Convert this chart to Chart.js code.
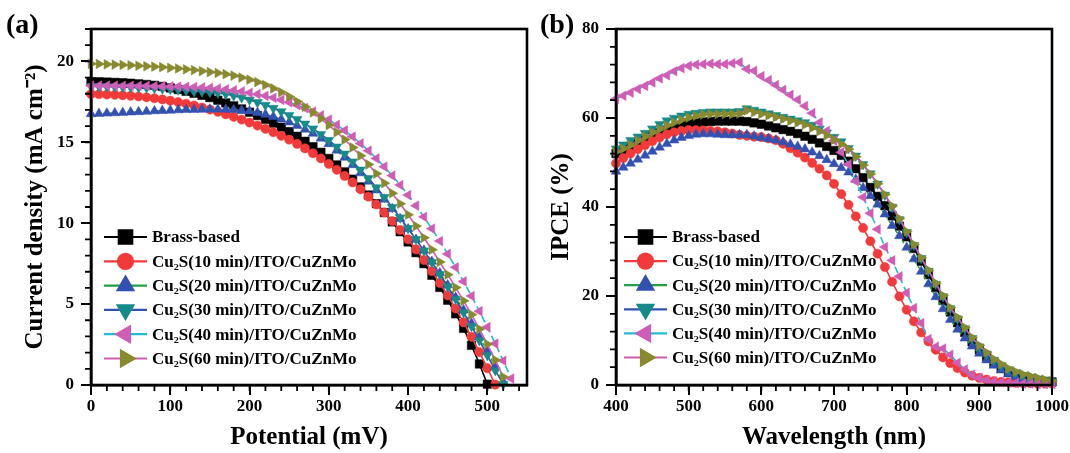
<!DOCTYPE html>
<html>
<head>
<meta charset="utf-8">
<script src="https://cdn.jsdelivr.net/npm/chart.js@4.4.1/dist/chart.umd.min.js"></script>
<style>
    html, body { margin: 0; padding: 0; background: #fff; }
    #wrap { position: relative; width: 1070px; height: 453px; overflow: hidden; }
    .panel { position: absolute; top: 0; width: 535px; height: 453px; }
    .tag { position: absolute; top: 8px; font: bold 28px "Liberation Serif", "Times New Roman", serif; line-height: 32px; color: #000; }
</style>
</head>
<body>
<div id="wrap">
    <div class="panel" style="left:0"><canvas id="jvChart"></canvas></div>
    <div class="panel" style="left:535px"><canvas id="ipceChart"></canvas></div>
    <div class="tag" style="left:6px">(a)</div>
    <div class="tag" style="left:540px">(b)</div>
</div>
<script>
// ---- data ----
const seriesNames = ['Brass-based', 'Cu\u2082S(10 min)/ITO/CuZnMo', 'Cu\u2082S(20 min)/ITO/CuZnMo',
    'Cu\u2082S(30 min)/ITO/CuZnMo', 'Cu\u2082S(40 min)/ITO/CuZnMo', 'Cu\u2082S(60 min)/ITO/CuZnMo'];

// (a) J-V curves, potential in mV
const potential = [0, 10, 20, 30, 40, 50, 60, 70, 80, 90, 100, 110, 120, 130, 140, 150, 160, 170, 180, 190,
    200, 210, 220, 230, 240, 250, 260, 270, 280, 290, 300, 310, 320, 330, 340, 350, 360, 370, 380, 390,
    400, 410, 420, 430, 440, 450, 460, 470, 480, 490, 500, 510, 520, 530];
const jBrass = [18.75, 18.74, 18.72, 18.7, 18.68, 18.65, 18.61, 18.57, 18.52, 18.45, 18.36, 18.26, 18.15, 18.03, 17.9,
    17.76, 17.6, 17.43, 17.25, 17.06, 16.86, 16.65, 16.42, 16.18, 15.93, 15.66, 15.37, 15.06, 14.73, 14.38,
    14.0, 13.6, 13.17, 12.72, 12.24, 11.74, 11.21, 10.66, 10.08, 9.47, 8.84, 8.18, 7.5, 6.78, 6.03,
    5.24, 4.4, 3.5, 2.45, 1.3, 0.05];
const jCu10 = [17.98, 17.97, 17.95, 17.93, 17.9, 17.87, 17.83, 17.78, 17.72, 17.65, 17.57, 17.48, 17.38, 17.27, 17.15,
    17.02, 16.88, 16.73, 16.57, 16.4, 16.22, 16.03, 15.83, 15.62, 15.4, 15.16, 14.9, 14.62, 14.32, 14.0,
    13.66, 13.3, 12.92, 12.52, 12.09, 11.64, 11.16, 10.66, 10.13, 9.58, 9.0, 8.38, 7.72, 7.03, 6.3,
    5.53, 4.72, 3.87, 2.98, 2.03, 1.04, 0.02];
const jCu20 = [16.75, 16.77, 16.79, 16.81, 16.83, 16.86, 16.88, 16.9, 16.93, 16.95, 16.97, 16.99, 17.01, 17.02, 17.03,
    17.04, 17.04, 17.03, 17.01, 16.97, 16.92, 16.83, 16.72, 16.58, 16.42, 16.24, 16.03, 15.8, 15.54, 15.24,
    14.9, 14.5, 14.06, 13.6, 13.1, 12.58, 12.04, 11.47, 10.88, 10.27, 9.64, 8.99, 8.32, 7.63, 6.92,
    6.18, 5.42, 4.63, 3.81, 2.96, 2.07, 1.15, 0.2];
const jCu30 = [18.45, 18.45, 18.44, 18.43, 18.42, 18.41, 18.39, 18.37, 18.35, 18.32, 18.29, 18.25, 18.2, 18.15, 18.13,
    18.1, 18.05, 17.98, 17.88, 17.76, 17.62, 17.47, 17.3, 17.11, 16.9, 16.67, 16.42, 16.14, 15.84, 15.5,
    15.13, 14.72, 14.28, 13.8, 13.3, 12.77, 12.2, 11.6, 10.98, 10.34, 9.68, 9.0, 8.3, 7.58, 6.84,
    6.08, 5.3, 4.48, 3.63, 2.75, 1.83, 0.9, 0.05];
const jCu40 = [18.5, 18.5, 18.5, 18.5, 18.49, 18.49, 18.48, 18.48, 18.47, 18.46, 18.45, 18.44, 18.43, 18.41, 18.39,
    18.36, 18.32, 18.27, 18.21, 18.14, 18.06, 17.97, 17.87, 17.75, 17.62, 17.47, 17.3, 17.11, 16.9, 16.67,
    16.4, 16.08, 15.73, 15.35, 14.93, 14.48, 14.0, 13.49, 12.94, 12.36, 11.74, 11.08, 10.39, 9.66, 8.9,
    8.1, 7.27, 6.4, 5.5, 4.56, 3.58, 2.56, 1.5, 0.4];
const jCu60 = [19.85, 19.84, 19.82, 19.8, 19.78, 19.76, 19.73, 19.7, 19.67, 19.64, 19.6, 19.56, 19.51, 19.46, 19.4,
    19.34, 19.28, 19.21, 19.12, 19.0, 18.87, 18.72, 18.54, 18.33, 18.09, 17.82, 17.52, 17.19, 16.84, 16.46,
    16.06, 15.62, 15.17, 14.68, 14.17, 13.63, 13.06, 12.47, 11.85, 11.2, 10.52, 9.82, 9.1, 8.36, 7.6,
    6.82, 6.02, 5.2, 4.35, 3.46, 2.52, 1.54, 0.5];

// (b) IPCE spectra, wavelength in nm
const wavelength = [400, 410, 420, 430, 440, 450, 460, 470, 480, 490, 500, 510, 520, 530, 540, 550, 560, 570, 580, 590,
    600, 610, 620, 630, 640, 650, 660, 670, 680, 690, 700, 710, 720, 730, 740, 750, 760, 770, 780, 790,
    800, 810, 820, 830, 840, 850, 860, 870, 880, 890, 900, 910, 920, 930, 940, 950, 960, 970, 980, 990, 1000];
const ipceBrass = [52.0, 52.8, 53.6, 54.4, 55.2, 56.0, 56.7, 57.3, 57.8, 58.3, 58.6, 58.9, 59.1, 59.2, 59.3, 59.3,
    59.3, 59.3, 59.2, 58.9, 58.6, 58.2, 57.8, 57.4, 57.0, 56.5, 55.9, 55.2, 54.4, 53.6, 52.7, 51.6, 50.3,
    48.6, 46.6, 44.4, 42.4, 40.3, 38.0, 35.7, 33.3, 30.7, 27.8, 24.8, 21.9, 19.0, 16.4, 14.0, 11.8, 9.7,
    7.9, 6.3, 4.9, 3.7, 2.8, 2.1, 1.6, 1.2, 1.0, 0.8, 0.7];
const ipceCu10 = [49.8, 51.0, 52.0, 53.0, 53.9, 54.8, 55.6, 56.3, 56.8, 57.1, 57.3, 57.3, 57.2, 57.1, 57.0, 56.8,
    56.5, 56.2, 56.0, 55.8, 55.7, 55.4, 55.0, 54.2, 53.2, 52.2, 51.1, 49.9, 48.6, 47.1, 45.2, 42.9, 40.5,
    37.9, 35.3, 32.3, 29.5, 26.5, 23.2, 19.9, 16.9, 14.3, 11.8, 9.8, 7.9, 6.2, 4.9, 3.8, 2.8, 2.1,
    1.6, 1.2, 0.9, 0.7, 0.6, 0.5, 0.4, 0.4, 0.3, 0.3, 0.3];
const ipceCu20 = [48.0, 48.9, 49.8, 50.7, 51.6, 52.5, 53.4, 54.2, 55.0, 55.6, 56.0, 56.3, 56.4, 56.4, 56.3, 56.2,
    56.2, 56.2, 56.2, 55.9, 55.6, 55.3, 55.0, 54.6, 54.1, 53.6, 53.0, 52.3, 51.5, 50.6, 49.7, 48.8, 47.8,
    46.2, 44.3, 42.5, 40.6, 38.4, 35.8, 33.5, 30.9, 28.3, 25.5, 22.7, 19.8, 17.1, 14.7, 12.5, 10.5, 8.7,
    7.1, 5.6, 4.4, 3.4, 2.5, 1.8, 1.3, 1.0, 0.8, 0.6, 0.5];
const ipceCu30 = [53.1, 54.0, 55.0, 55.8, 56.6, 57.6, 58.6, 59.4, 60.0, 60.5, 60.9, 61.1, 61.3, 61.4, 61.4, 61.4,
    61.4, 61.5, 62.1, 61.8, 61.4, 61.0, 60.6, 60.2, 59.8, 59.4, 59.0, 58.4, 57.6, 56.7, 55.7, 54.7, 53.2,
    51.5, 49.6, 47.5, 45.2, 42.7, 40.0, 37.2, 34.3, 31.4, 28.5, 25.6, 22.7, 19.9, 17.2, 14.9, 12.7, 10.5,
    8.6, 7.0, 5.6, 4.4, 3.5, 2.8, 2.2, 1.8, 1.4, 1.1, 0.8];
const ipceCu40 = [64.3, 65.0, 65.7, 66.5, 67.2, 68.0, 68.9, 69.6, 70.5, 71.2, 71.7, 72.0, 72.1, 72.2, 72.1, 72.1,
    72.3, 72.5, 71.0, 70.6, 69.4, 68.5, 67.4, 66.3, 65.2, 64.1, 62.7, 61.1, 59.0, 57.1, 54.9, 52.3, 49.6,
    45.8, 42.2, 38.6, 35.0, 31.0, 28.0, 24.4, 20.7, 17.3, 13.9, 10.3, 8.6, 8.2, 6.8, 5.0, 3.5, 2.3,
    1.6, 1.1, 0.8, 0.6, 0.5, 0.4, 0.3, 0.3, 0.2, 0.2, 0.2];
const ipceCu60 = [52.4, 53.1, 53.9, 54.9, 55.8, 56.7, 57.5, 58.3, 59.0, 59.6, 60.1, 60.5, 60.8, 60.9, 60.9, 60.9,
    60.9, 61.0, 61.7, 61.3, 60.9, 60.6, 60.2, 59.8, 59.4, 59.0, 58.5, 57.8, 57.0, 56.1, 55.1, 54.1, 53.0,
    51.3, 49.4, 47.4, 45.2, 42.8, 40.2, 37.4, 34.5, 31.6, 28.6, 25.8, 22.9, 20.1, 17.4, 15.2, 12.9, 10.7,
    8.9, 7.3, 5.8, 4.7, 3.7, 3.0, 2.4, 2.0, 1.6, 1.2, 0.9];

// ---- styling per series ----
const markerColors = ['#000000', '#f23a3a', '#3451b2', '#178a8a', '#cf5db6', '#878a2d'];
const lineColors = ['#000000', '#f23a3a', '#23a042', '#3451b2', '#22bcd2', '#cf5db6'];
const lineDashes = [[], [], [3, 3], [], [7, 4], []];
const markerStyles = ['rect', 'circle', 'triangle', 'triangle', 'triangle', 'triangle'];
const markerRotations = [0, 0, 0, 180, 270, 90];
const plotRadius = [6, 4.6, 5.6, 5.6, 5.6, 5.6];
const legendRadius = [9.5, 7.5, 9, 9, 9, 9];

const serif = '"Liberation Serif", "Times New Roman", serif';

// legend drawn inside the plot, line sample + big marker like the original
const insideLegend = {
    id: 'insideLegend',
    afterDatasetsDraw(chart, args, opts) {
        const ctx = chart.ctx;
        ctx.save();
        ctx.font = 'bold 17px ' + serif;
        ctx.textBaseline = 'middle';
        chart.data.datasets.forEach((ds, i) => {
            const y = opts.top + i * opts.gap;
            ctx.setLineDash([]);
            ctx.strokeStyle = lineColors[i];
            ctx.lineWidth = 2.2;
            ctx.beginPath();
            ctx.moveTo(opts.left, y);
            ctx.lineTo(opts.left + opts.len, y);
            ctx.stroke();
            ctx.fillStyle = markerColors[i];
            ctx.strokeStyle = markerColors[i];
            Chart.helpers.drawPoint(ctx, {
                pointStyle: markerStyles[i], rotation: markerRotations[i],
                radius: legendRadius[i], borderWidth: 1
            }, opts.left + opts.len / 2, y);
            ctx.fillStyle = '#000';
            ctx.fillText(ds.label, opts.left + opts.len + 5, y + 1);
        });
        ctx.restore();
    }
};

// box frame and the short minor ticks
const frameTicks = {
    id: 'frameTicks',
    afterDraw(chart, args, opts) {
        const { ctx, chartArea: a } = chart;
        const xs = chart.scales.x, ys = chart.scales.y;
        ctx.save();
        ctx.strokeStyle = '#000';
        ctx.lineWidth = 1.8;
        ctx.beginPath();
        for (let v = xs.min; v <= xs.max + 1e-9; v += opts.xStep) {
            const px = xs.getPixelForValue(v);
            ctx.moveTo(px, a.bottom);
            ctx.lineTo(px, a.bottom + opts.len);
        }
        for (let v = ys.min; v <= ys.max + 1e-9; v += opts.yStep) {
            const py = ys.getPixelForValue(v);
            ctx.moveTo(a.left, py);
            ctx.lineTo(a.left - opts.len, py);
        }
        ctx.stroke();
        ctx.lineWidth = 2.6;
        ctx.strokeRect(a.left, a.top, a.right - a.left, a.bottom - a.top);
        ctx.restore();
    }
};

function makeChart(id, cfg) {
    const datasets = cfg.series.map((vals, i) => ({
        label: seriesNames[i],
        data: vals,
        borderColor: lineColors[i],
        borderWidth: 1.6,
        borderDash: lineDashes[i],
        pointStyle: markerStyles[i],
        pointRotation: markerRotations[i],
        pointRadius: plotRadius[i],
        pointBackgroundColor: markerColors[i],
        pointBorderColor: markerColors[i],
        pointBorderWidth: 0.5,
        tension: 0,
        fill: false,
        clip: false,
        order: 5 - i
    }));
    const tickFont = { family: serif, weight: 'bold', size: 17 };
    const titleFont = { family: serif, weight: 'bold', size: 25 };
    return new Chart(document.getElementById(id), {
        type: 'line',
        data: { labels: cfg.xValues, datasets: datasets },
        options: {
            responsive: true,
            maintainAspectRatio: false,
            animation: false,
            layout: { padding: cfg.padding },
            plugins: {
                legend: { display: false },
                tooltip: { enabled: false },
                insideLegend: cfg.legend,
                frameTicks: cfg.minor
            },
            scales: {
                x: {
                    type: 'linear',
                    min: cfg.xMin, max: cfg.xMax,
                    afterFit: (s) => { s.height = cfg.xAxisHeight; s.paddingLeft = 0; s.paddingRight = 0; },
                    ticks: {
                        stepSize: cfg.xStep, includeBounds: false, font: tickFont, color: '#000',
                        padding: 1, maxRotation: 0, callback: (v) => String(v)
                    },
                    grid: { drawOnChartArea: false, tickLength: 10, color: '#000', lineWidth: 2 },
                    border: { color: '#000', width: 2.6 },
                    title: { display: true, text: cfg.xTitle, font: titleFont, color: '#000', padding: { top: 0, bottom: 0 } }
                },
                y: {
                    min: cfg.yMin, max: cfg.yMax,
                    afterFit: (s) => { s.width = cfg.yAxisWidth; s.paddingTop = 0; s.paddingBottom = 0; },
                    ticks: { stepSize: cfg.yStep, includeBounds: false, font: tickFont, color: '#000', padding: 7 },
                    grid: { drawOnChartArea: false, tickLength: 10, color: '#000', lineWidth: 2 },
                    border: { color: '#000', width: 2.6 },
                    title: { display: true, text: cfg.yTitle, font: titleFont, color: '#000', padding: 0 }
                }
            }
        },
        plugins: [frameTicks, insideLegend]
    });
}

makeChart('jvChart', {
    xValues: potential,
    series: [jBrass, jCu10, jCu20, jCu30, jCu40, jCu60],
    xMin: 0, xMax: 550, xStep: 100,
    yMin: 0, yMax: 22, yStep: 5,
    xTitle: 'Potential (mV)',
    yTitle: 'Current density (mA cm\u207B\u00B2)',
    padding: { left: 21, right: 8, top: 29, bottom: 0 },
    yAxisWidth: 70,
    xAxisHeight: 68,
    minor: { xStep: 20, yStep: 1, len: 6 },
    legend: { left: 104, top: 237, gap: 24.3, len: 43 }
});

makeChart('ipceChart', {
    xValues: wavelength,
    series: [ipceBrass, ipceCu10, ipceCu20, ipceCu30, ipceCu40, ipceCu60],
    xMin: 400, xMax: 1000, xStep: 100,
    yMin: 0, yMax: 80, yStep: 20,
    xTitle: 'Wavelength (nm)',
    yTitle: 'IPCE (%)',
    padding: { left: 12, right: 18, top: 29, bottom: 0 },
    yAxisWidth: 69,
    xAxisHeight: 68,
    minor: { xStep: 20, yStep: 4, len: 6 },
    legend: { left: 89, top: 237, gap: 24.1, len: 43 }
});
</script>
</body>
</html>
